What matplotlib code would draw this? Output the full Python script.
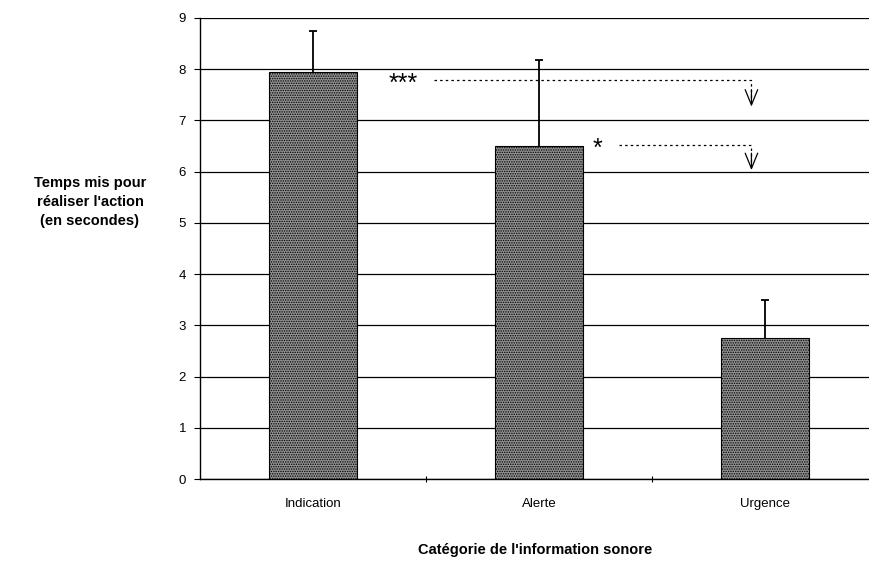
import matplotlib
matplotlib.use("Agg")
import matplotlib.pyplot as plt

plt.rcParams['font.family'] = ['Liberation Sans', 'DejaVu Sans']
plt.rcParams['hatch.color'] = '#3a3a3a'
plt.rcParams['hatch.linewidth'] = 0.7

# mean action time per sound category, with upper standard deviation
categories = ["Indication", "Alerte", "Urgence"]
means = [7.95, 6.5, 2.75]
sd_upper = [0.8, 1.68, 0.74]
yticks = list(range(0, 10))

fig = plt.figure(figsize=(8.7, 5.61), dpi=100)
ax = fig.add_axes([200 / 870, 1 - 479 / 561, 678 / 870, 461 / 561])

x = list(range(len(categories)))
ax.bar(x, means, width=0.39, color='#929292', edgecolor='black',
       linewidth=0.8, hatch='.......', zorder=3)

# one-sided error bars: stem from bar top plus a cap at the top only
tops = [m + s for m, s in zip(means, sd_upper)]
ax.vlines(x, means, tops, color='black', linewidth=1.3, zorder=4)
ax.hlines(tops, [i - 0.018 for i in x], [i + 0.018 for i in x],
          color='black', linewidth=1.3, zorder=4)

ax.set_xlim(-0.5, 2.5)
ax.set_ylim(0, 9)
ax.set_yticks(yticks)
ax.yaxis.grid(True, color='black', linewidth=0.9, zorder=0)
ax.set_axisbelow(True)

ax.set_xticks(x)
ax.set_xticklabels(categories, fontsize=9.5)
ax.tick_params(axis='x', length=0, pad=14)
ax.set_xticks([0.5, 1.5], minor=True)
ax.tick_params(axis='x', which='minor', length=5, direction='inout', width=0.8)
ax.tick_params(axis='y', labelsize=9.5, length=4, width=0.8, pad=6)

for s in ['top', 'right']:
    ax.spines[s].set_visible(False)
ax.spines['left'].set_linewidth(1.0)
ax.spines['bottom'].set_linewidth(1.0)

# significance markers with dotted leaders pointing down to Urgence
dash = dict(color='black', linewidth=0.9, linestyle=(0, (2, 2.5)))
head = dict(arrowstyle='->,head_length=1.1,head_width=0.45',
            color='black', lw=0.9, shrinkA=0, shrinkB=0)


def leader(x0, x1, y, y_tip):
    ax.plot([x0, x1, x1], [y, y, y_tip + 0.05], **dash)
    ax.annotate("", xy=(x1, y_tip), xytext=(x1, y_tip + 0.33), arrowprops=head)


ax.text(0.40, 7.72, "***", fontsize=18, ha='center', va='center')
leader(0.535, 1.94, 7.79, 7.27)
ax.text(1.257, 6.44, "*", fontsize=18, ha='center', va='center')
leader(1.354, 1.94, 6.52, 6.03)

fig.text(90 / 870, 1 - 202 / 561, "Temps mis pour\nréaliser l'action\n(en secondes)",
         ha='center', va='center', fontsize=10.5, fontweight='bold', linespacing=1.5)
fig.text(535 / 870, 1 - 550 / 561, "Catégorie de l'information sonore",
         ha='center', va='center', fontsize=10.5, fontweight='bold')

fig.savefig("out.png", dpi=100)
